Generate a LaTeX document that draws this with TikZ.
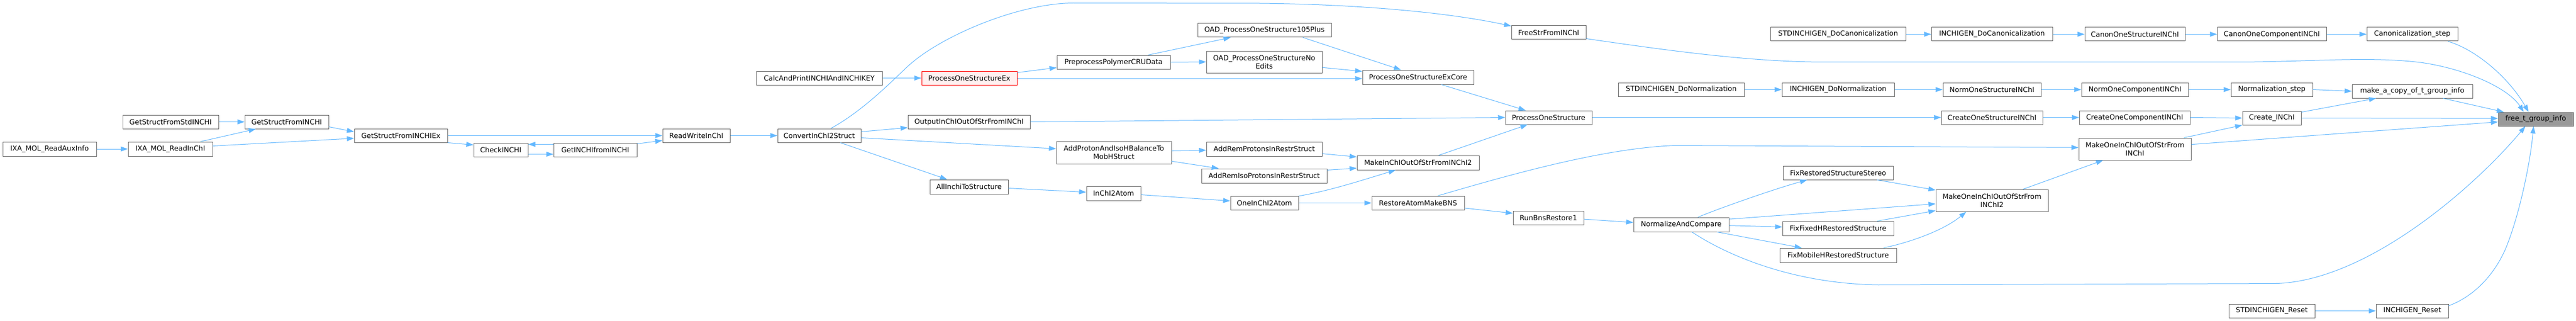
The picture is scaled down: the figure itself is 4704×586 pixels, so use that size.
\documentclass[tikz,border=0pt]{standalone}
\usepackage{fontspec}
\setmainfont{DejaVu Sans}
\usetikzlibrary{calc,arrows.meta}
\definecolor{edgecol}{HTML}{63B8FF}
\definecolor{nodeborder}{HTML}{666666}
\definecolor{truncfill}{HTML}{FFF0F0}
\definecolor{rootfill}{HTML}{999999}
\tikzset{
  nb/.style={draw=nodeborder, fill=white, line width=1pt, inner sep=0pt, align=center,
    font=\fontsize{12.8}{15}\selectfont, text=black},
  trunc/.style={draw=red, fill=truncfill},
  root/.style={draw=nodeborder, fill=rootfill},
  cl/.style={draw=edgecol, line width=1pt, -{Triangle[length=13pt,width=9pt]}}
}
\newcommand{\nbox}[7]{\node[nb,#1,minimum width={#4-#3},minimum height={#6-#5}] (#2) at ({(#3+#4)/2},{(#5+#6)/2}) {#7};}
\begin{document}
\begin{tikzpicture}[x=1pt,y=-1pt]
\useasboundingbox (0,0) rectangle (4704,586);
\fill[white] (0,0) rectangle (4704,586);
% nodes
\nbox{}{auxinfo}{5}{176}{259}{285}{IXA\_MOL\_ReadAuxInfo}
\nbox{}{readinchi}{234}{388}{259}{285}{IXA\_MOL\_ReadInChI}
\nbox{}{gsstd}{224}{399}{210}{235}{GetStructFromStdINCHI}
\nbox{}{gsfi}{447}{600}{210}{235}{GetStructFromINCHI}
\nbox{}{gsfiex}{647}{817}{235}{260}{GetStructFromINCHIEx}
\nbox{}{check}{865}{964}{261}{286}{CheckINCHI}
\nbox{}{getinchi}{1011}{1163}{261}{286}{GetINCHIfromINCHI}
\nbox{}{rw}{1210}{1333}{235}{260}{ReadWriteInChI}
\nbox{}{conv}{1420}{1572}{235}{260}{ConvertInChI2Struct}
\nbox{}{calc}{1381}{1611}{130}{155}{CalcAndPrintINCHIAndINCHIKEY}
\nbox{trunc}{posex}{1683}{1857}{130}{155}{ProcessOneStructureEx}
\nbox{}{output}{1658}{1881}{210}{235}{OutputInChIOutOfStrFromINChI}
\nbox{}{allinchi}{1698}{1841}{328}{354}{AllInchiToStructure}
\nbox{}{prepoly}{1930}{2137}{101}{126}{PreprocessPolymerCRUData}
\nbox{}{oad105}{2187}{2431}{43}{68}{OAD\_ProcessOneStructure105Plus}
\nbox{}{oadno}{2203}{2414}{93}{133}{OAD\_ProcessOneStructureNo\\Edits}
\nbox{}{addproton}{1929}{2139}{258}{299}{AddProtonAndIsoHBalanceTo\\MobHStruct}
\nbox{}{addrem}{2203}{2414}{259}{285}{AddRemProtonsInRestrStruct}
\nbox{}{addremiso}{2194}{2423}{308}{334}{AddRemIsoProtonsInRestrStruct}
\nbox{}{inchi2atom}{1984}{2083}{340}{366}{InChI2Atom}
\nbox{}{oneinchi2atom}{2247}{2371}{358}{383}{OneInChI2Atom}
\nbox{}{freestr}{2760}{2896}{47}{72}{FreeStrFromINChI}
\nbox{}{excore}{2488}{2691}{128}{154}{ProcessOneStructureExCore}
\nbox{}{pos}{2749}{2907}{202}{227}{ProcessOneStructure}
\nbox{}{makeinchi2}{2478}{2701}{284}{310}{MakeInChIOutOfStrFromINChI2}
\nbox{}{restore}{2505}{2674}{358}{383}{RestoreAtomMakeBNS}
\nbox{}{runbns}{2763}{2892}{385}{410}{RunBnsRestore1}
\nbox{}{stdnorm}{2955}{3185}{151}{176}{STDINCHIGEN\_DoNormalization}
\nbox{}{normcmp}{2983}{3157}{397}{423}{NormalizeAndCompare}
\nbox{}{stdcanon}{3233}{3480}{50}{75}{STDINCHIGEN\_DoCanonicalization}
\nbox{}{igcanon}{3527}{3748}{50}{75}{INCHIGEN\_DoCanonicalization}
\nbox{}{ignorm}{3254}{3459}{151}{176}{INCHIGEN\_DoNormalization}
\nbox{}{normone}{3548}{3727}{151}{176}{NormOneStructureINChI}
\nbox{}{createone}{3545}{3730}{202}{227}{CreateOneStructureINChI}
\nbox{}{fixstereo}{3256}{3457}{303}{328}{FixRestoredStructureStereo}
\nbox{}{makeone2}{3535}{3740}{346}{386}{MakeOneInChIOutOfStrFrom\\INChI2}
\nbox{}{fixfixed}{3255}{3458}{404}{430}{FixFixedHRestoredStructure}
\nbox{}{fixmobile}{3250}{3463}{453}{479}{FixMobileHRestoredStructure}
\nbox{}{canonone}{3807}{3990}{50}{75}{CanonOneStructureINChI}
\nbox{}{canoncomp}{4049}{4248}{50}{75}{CanonOneComponentINChI}
\nbox{}{normcomp}{3801}{3996}{151}{176}{NormOneComponentINChI}
\nbox{}{normstep}{4074}{4223}{151}{176}{Normalization\_step}
\nbox{}{createcomp}{3797}{3999}{202}{227}{CreateOneComponentINChI}
\nbox{}{createinchi}{4095}{4202}{203}{228}{Create\_INChI}
\nbox{}{makeone}{3796}{4001}{252}{292}{MakeOneInChIOutOfStrFrom\\INChI}
\nbox{}{stdreset}{4070}{4227}{555}{580}{STDINCHIGEN\_Reset}
\nbox{}{igreset}{4339}{4471}{555}{580}{INCHIGEN\_Reset}
\nbox{}{canonstep}{4322}{4488}{50}{75}{Canonicalization\_step}
\nbox{}{makecopy}{4295}{4515}{154}{179}{make\_a\_copy\_of\_t\_group\_info}
\nbox{root}{free}{4562}{4699}{205}{230}{free\_t\_group\_info}
% edges
\draw[cl] (auxinfo.east) -- (readinchi.west);
\draw[cl] (gsstd.east) -- (gsfi.west);
\draw[cl] ($(readinchi.north west)+(132.6,0)$) -- ($(gsfi.south west)+(20.6,0)$);
\draw[cl] ($(readinchi.north east)+(0,8)$) -- ($(gsfiex.north west)+(0,18)$);
\draw[cl] ($(gsfi.north east)+(0,22)$) -- ($(gsfiex.north west)+(0,6)$);
\draw[cl] (gsfiex.east) -- (rw.west);
\draw[cl] (gsfiex.south east) -- ($(check.north west)+(0,4)$);
\draw[cl] ($(getinchi.north west)+(0,3)$) -- ($(check.north east)+(0,3)$);
\draw[cl] ($(check.north east)+(0,21)$) -- ($(getinchi.north west)+(0,21)$);
\draw[cl] ($(getinchi.north east)+(0,2)$) -- ($(rw.north west)+(0,22)$);
\draw[cl] (rw.east) -- (conv.west);
\draw[cl] (calc.east) -- (posex.west);
\draw[cl] ($(conv.north west)+(97.6,0)$) .. controls (1580,200) and (1635,141.5) .. (1660,119) .. controls (1720,65) and (1860,6) .. (1960,5.5) -- (2300,6) .. controls (2480,8) and (2640,22) .. ($(freestr.north west)+(0,1)$);
\draw[cl] ($(conv.north east)+(0,6)$) -- ($(output.north west)+(0,23.5)$);
\draw[cl] ($(conv.north east)+(0,17)$) -- ($(addproton.north west)+(0,14)$);
\draw[cl] ($(conv.south west)+(115,0)$) -- ($(allinchi.north west)+(32,0)$);
\draw[cl] ($(posex.north east)+(0,3)$) -- ($(prepoly.north west)+(0,23)$);
\draw[cl] ($(posex.north east)+(0,14)$) -- ($(excore.north west)+(0,16)$);
\draw[cl] ($(prepoly.north west)+(166.6,0)$) -- ($(oad105.south west)+(60.7,0)$);
\draw[cl] (prepoly.east) -- (oadno.west);
\draw[cl] (output.east) -- (pos.west);
\draw[cl] ($(addproton.north east)+(0,17.8)$) -- ($(addrem.north west)+(0,15.7)$);
\draw[cl] ($(addproton.north east)+(0,36.8)$) -- ($(addremiso.north west)+(32,0)$);
\draw[cl] ($(allinchi.north east)+(0,16)$) -- ($(inchi2atom.north west)+(0,11.3)$);
\draw[cl] ($(inchi2atom.north east)+(0,16)$) -- ($(oneinchi2atom.north west)+(0,9.3)$);
\draw[cl] ($(oneinchi2atom.north east)+(0,0.4)$) .. controls (2430,348) and (2490,328) .. ($(makeinchi2.south west)+(71,0)$);
\draw[cl] (oneinchi2atom.east) -- (restore.west);
\draw[cl] ($(oad105.south west)+(192.8,0)$) -- ($(excore.north west)+(70.8,0)$);
\draw[cl] ($(oadno.north east)+(0,30.7)$) -- ($(excore.north west)+(0,2.8)$);
\draw[cl] ($(addrem.north east)+(0,22)$) -- ($(makeinchi2.north west)+(0,3)$);
\draw[cl] ($(addremiso.north east)+(0,3)$) -- ($(makeinchi2.north west)+(0,23.5)$);
\draw[cl] ($(excore.south west)+(144.7,0)$) -- ($(pos.north west)+(37.5,0)$);
\draw[cl] ($(makeinchi2.north west)+(149.7,0)$) -- ($(pos.south west)+(41,0)$);
\draw[cl] ($(freestr.north east)+(0,24)$) .. controls (3050,93) and (3200,113.2) .. (3330,113.2) -- (4100,113.2) .. controls (4230,112) and (4330,103) .. (4420,114) .. controls (4500,125) and (4580,160) .. ($(free.north west)+(47,0)$);
\draw[cl] (pos.east) -- (createone.west);
\draw[cl] ($(restore.north east)+(0,22.4)$) -- ($(runbns.north west)+(0,4.8)$);
\draw[cl] ($(runbns.north east)+(0,15.6)$) -- ($(normcmp.north west)+(0,9.6)$);
\draw[cl] ($(restore.north west)+(120.8,0)$) .. controls (2760,318) and (2930,270) .. (3060,265.5) -- ($(makeone.north west)+(0,17.8)$);
\draw[cl] (stdnorm.east) -- (ignorm.west);
\draw[cl] (stdcanon.east) -- (igcanon.west);
\draw[cl] (ignorm.east) -- (normone.west);
\draw[cl] (igcanon.east) -- (canonone.west);
\draw[cl] (canonone.east) -- (canoncomp.west);
\draw[cl] (normone.east) -- (normcomp.west);
\draw[cl] (normcomp.east) -- (normstep.west);
\draw[cl] (createone.east) -- (createcomp.west);
\draw[cl] (createcomp.east) -- (createinchi.west);
\draw[cl] (canoncomp.east) -- (canonstep.west);
\draw[cl] (stdreset.east) -- (igreset.west);
\draw[cl] (normstep.east) -- (makecopy.west);
\draw[cl] ($(normcmp.north west)+(118,0)$) .. controls (3140,380) and (3240,345) .. ($(fixstereo.south west)+(44.4,0)$);
\draw[cl] ($(normcmp.north east)+(0,3.6)$) -- ($(makeone2.north west)+(0,26.6)$);
\draw[cl] ($(normcmp.north east)+(0,15.2)$) -- ($(fixfixed.north west)+(0,10.8)$);
\draw[cl] ($(normcmp.south west)+(152.9,0)$) -- ($(fixmobile.north west)+(40.8,0)$);
\draw[cl] ($(normcmp.south west)+(107,0)$) .. controls (3160,470) and (3280,518) .. (3430,520) -- (4150,517.6) .. controls (4320,517) and (4520,340) .. ($(free.south west)+(50,0)$);
\draw[cl] ($(fixstereo.south west)+(172.6,0)$) -- ($(makeone2.north west)+(0,1.5)$);
\draw[cl] ($(fixfixed.north west)+(173.6,0)$) -- ($(makeone2.south west)+(0,-2)$);
\draw[cl] ($(fixmobile.north west)+(190,0)$) .. controls (3490,442) and (3550,420) .. ($(makeone2.south west)+(56,0)$);
\draw[cl] ($(makeone2.north west)+(159.5,0)$) -- ($(makeone.south west)+(45,0)$);
\draw[cl] ($(makeone.north west)+(192.4,0)$) -- (createinchi.south west);
\draw[cl] ($(makeone.north east)+(0,12.2)$) -- ($(free.north west)+(0,18.1)$);
\draw[cl] ($(canonstep.south west)+(148.6,0)$) .. controls (4520,90) and (4580,140) .. ($(free.north west)+(56,0)$);
\draw[cl] ($(makecopy.south west)+(166.8,0)$) -- ($(free.north west)+(10.8,0)$);
\draw[cl] ($(createinchi.north east)+(0,2.2)$) -- ($(makecopy.south west)+(44.4,0)$);
\draw[cl] ($(createinchi.north east)+(0,13)$) -- ($(free.north west)+(0,11.7)$);
\draw[cl] ($(igreset.north east)+(0,3.7)$) .. controls (4520,540) and (4555,500) .. (4575,455) .. controls (4600,395) and (4620,300) .. ($(free.south west)+(65,0)$);
\end{tikzpicture}
\end{document}
